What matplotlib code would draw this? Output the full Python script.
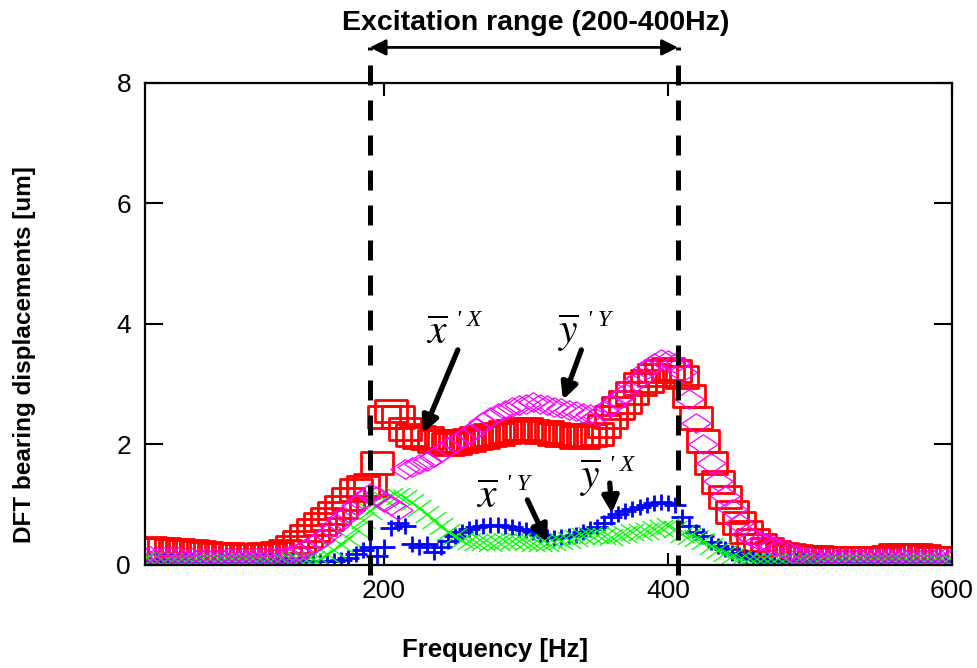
import numpy as np
import matplotlib
matplotlib.use("Agg")
import matplotlib.pyplot as plt
from matplotlib.path import Path

plt.rcParams['font.family'] = ['Liberation Sans', 'DejaVu Sans']
plt.rcParams['mathtext.fontset'] = 'stix'

# frequency grid [Hz], 5 Hz step
freq = np.arange(30, 601, 5)

# x'X  (red squares)
x_X = [0.27, 0.28, 0.27, 0.26, 0.25, 0.25, 0.24, 0.23, 0.21, 0.20,
       0.19, 0.19, 0.18, 0.17, 0.17, 0.17, 0.17, 0.18, 0.19, 0.20,
       0.24, 0.30, 0.38, 0.48, 0.58, 0.68, 0.76, 0.86, 0.96, 1.10,
       1.25, 1.30, 1.32, 1.70, 2.45, 2.55, 2.45, 2.25, 2.15, 2.12,
       2.10, 2.05, 2.05, 2.00, 2.02, 2.05, 2.08, 2.10, 2.12, 2.15,
       2.18, 2.20, 2.22, 2.25, 2.25, 2.22, 2.20, 2.20, 2.18, 2.15,
       2.15, 2.12, 2.12, 2.15, 2.18, 2.30, 2.45, 2.60, 2.70, 2.85,
       3.00, 3.05, 3.15, 3.22, 3.25, 3.22, 3.12, 2.80, 2.44, 2.05,
       1.70, 1.38, 1.13, 0.88, 0.70, 0.55, 0.42, 0.33, 0.26, 0.21,
       0.18, 0.16, 0.15, 0.14, 0.13, 0.13, 0.12, 0.12, 0.12, 0.12,
       0.12, 0.12, 0.12, 0.12, 0.12, 0.13, 0.16, 0.17, 0.17, 0.17,
       0.15, 0.12, 0.12, 0.12, 0.12]

# y'Y  (magenta diamonds)
y_Y = [0.15, 0.15, 0.14, 0.14, 0.13, 0.13, 0.12, 0.12, 0.12, 0.12,
       0.12, 0.12, 0.12, 0.12, 0.12, 0.12, 0.12, 0.12, 0.13, 0.14,
       0.15, 0.18, 0.22, 0.28, 0.35, 0.42, 0.52, 0.64, 0.76, 0.88,
       1.00, 1.10, 1.20, 1.15, 1.05, 1.00, 0.92, 1.60, 1.63, 1.67,
       1.72, 1.80, 1.88, 1.95, 2.02, 2.10, 2.18, 2.28, 2.38, 2.45,
       2.52, 2.58, 2.62, 2.66, 2.68, 2.70, 2.68, 2.65, 2.62, 2.60,
       2.58, 2.55, 2.52, 2.50, 2.48, 2.55, 2.65, 2.75, 2.85, 3.00,
       3.10, 3.25, 3.35, 3.42, 3.40, 3.35, 3.20, 2.75, 2.35, 2.00,
       1.70, 1.40, 1.15, 0.93, 0.70, 0.52, 0.45, 0.40, 0.36, 0.32,
       0.28, 0.22, 0.18, 0.15, 0.13, 0.12, 0.12, 0.12, 0.12, 0.12,
       0.12, 0.12, 0.12, 0.12, 0.12, 0.12, 0.12, 0.12, 0.12, 0.12,
       0.12, 0.12, 0.12, 0.12, 0.12]

# x'Y  (blue plus)
x_Y = [0.07, 0.07, 0.06, 0.06, 0.06, 0.06, 0.06, 0.06, 0.06, 0.06,
       0.06, 0.06, 0.06, 0.06, 0.06, 0.06, 0.06, 0.06, 0.06, 0.06,
       0.06, 0.06, 0.06, 0.06, 0.06, 0.06, 0.06, 0.06, 0.08, 0.12,
       0.18, 0.25, 0.30, 0.15, 0.30, 0.62, 0.70, 0.65, 0.35, 0.30,
       0.35, 0.22, 0.30, 0.40, 0.48, 0.55, 0.60, 0.63, 0.65, 0.66,
       0.66, 0.65, 0.63, 0.60, 0.58, 0.55, 0.50, 0.47, 0.45, 0.46,
       0.48, 0.50, 0.55, 0.60, 0.63, 0.70, 0.80, 0.85, 0.90, 0.93,
       0.97, 1.00, 1.03, 1.05, 1.03, 1.00, 0.80, 0.65, 0.55, 0.48,
       0.38, 0.32, 0.26, 0.20, 0.17, 0.13, 0.10, 0.08, 0.07, 0.06,
       0.06, 0.06, 0.06, 0.06, 0.06, 0.06, 0.06, 0.06, 0.06, 0.06,
       0.06, 0.06, 0.06, 0.06, 0.06, 0.06, 0.06, 0.06, 0.06, 0.06,
       0.06, 0.06, 0.06, 0.06, 0.06]

# y'X  (green cross)
y_X = [0.08, 0.08, 0.07, 0.07, 0.07, 0.07, 0.07, 0.07, 0.07, 0.07,
       0.07, 0.07, 0.07, 0.07, 0.07, 0.07, 0.07, 0.07, 0.07, 0.07,
       0.07, 0.08, 0.08, 0.09, 0.10, 0.12, 0.18, 0.25, 0.35, 0.45,
       0.60, 0.75, 0.90, 1.00, 1.10, 1.15, 1.15, 1.12, 1.05, 0.95,
       0.85, 0.75, 0.65, 0.55, 0.48, 0.42, 0.40, 0.38, 0.38, 0.37,
       0.38, 0.40, 0.40, 0.40, 0.38, 0.37, 0.36, 0.36, 0.38, 0.40,
       0.42, 0.45, 0.48, 0.50, 0.50, 0.48, 0.47, 0.50, 0.52, 0.55,
       0.55, 0.57, 0.60, 0.62, 0.65, 0.60, 0.52, 0.48, 0.45, 0.40,
       0.32, 0.25, 0.20, 0.15, 0.10, 0.07, 0.06, 0.06, 0.06, 0.06,
       0.06, 0.06, 0.06, 0.06, 0.06, 0.06, 0.06, 0.06, 0.06, 0.06,
       0.06, 0.06, 0.06, 0.06, 0.06, 0.06, 0.06, 0.06, 0.06, 0.06,
       0.06, 0.06, 0.06, 0.06, 0.06]

exc_lo, exc_hi = 190, 407   # dashed lines as drawn

# wide (stretched) marker shapes
M, L, C = Path.MOVETO, Path.LINETO, Path.CLOSEPOLY
rect = Path([(-1.45, -1), (1.45, -1), (1.45, 1), (-1.45, 1), (-1.45, -1)], [M, L, L, L, C])
diamond = Path([(-1.5, 0), (0, -1), (1.5, 0), (0, 1), (-1.5, 0)], [M, L, L, L, C])
plus = Path([(-1.4, 0), (1.4, 0), (0, -1), (0, 1)], [M, L, M, L])
cross = Path([(-1.4, -1), (1.4, 1), (-1.4, 1), (1.4, -1)], [M, L, M, L])

fig = plt.figure(figsize=(9.77, 6.68), dpi=100)
ax = fig.add_axes([0.1484, 0.1542, 0.826, 0.7216])

ax.plot(freq, x_X, ls='none', marker=rect, ms=23, mfc='none', mec='#ff0000', mew=2.0)
ax.plot(freq, x_Y, ls='none', marker=plus, ms=16, mfc='none', mec='#0000ff', mew=2.0)
ax.plot(freq, y_X, ls='none', marker=cross, ms=17, mfc='none', mec='#00ff00', mew=0.9)
ax.plot(freq, y_Y, ls='none', marker=diamond, ms=21, mfc='none', mec='#ff00ff', mew=0.9)

ax.set_xlim(31.7, 600)
ax.set_ylim(0, 8)
ax.set_xticks([200, 400, 600])
ax.set_yticks([0, 2, 4, 6, 8])
ax.tick_params(direction='in', top=True, right=True, labelsize=19, width=1.5, pad=10)
ax.tick_params(axis='x', length=9)
ax.tick_params(axis='y', length=13)
for s in ax.spines.values():
    s.set_linewidth(1.6)

# excitation range markers
for fx in (exc_lo, exc_hi):
    ax.plot([fx, fx], [-0.17, 8.59], color='k', lw=3.6, dashes=(4, 3), clip_on=False, zorder=5)
ax.annotate('', xy=(exc_lo, 8.59), xytext=(exc_hi, 8.59),
            arrowprops=dict(arrowstyle='<|-|>', lw=2, color='k', mutation_scale=24,
                            shrinkA=0, shrinkB=0), annotation_clip=False)
fig.text(536 / 977, 1 - 23 / 668, 'Excitation range (200-400Hz)', ha='center', va='center',
         fontsize=20.5, fontweight='bold')

# curve labels: (symbol, superscript, text pos, arrow tail, arrow head)
labels = [
    (r"$\overline{x}$", "' X", (237.3, 3.85), (252, 3.57), (227.5, 2.19)),
    (r"$\overline{y}$", "' Y", (329.6, 3.85), (339, 3.57), (326, 2.74)),
    (r"$\overline{x}$", "' Y", (272.5, 1.13), (301, 1.08), (315, 0.38)),
    (r"$\overline{y}$", "' X", (345.0, 1.45), (359, 1.36), (360.5, 0.86)),
]
for sym, sup, tpos, tail, head in labels:
    ax.text(tpos[0], tpos[1], sym, ha='center', va='center', fontsize=30, zorder=6)
    ax.annotate(sup, xy=tpos, xytext=(14, 9), textcoords='offset points',
                ha='left', va='center', fontsize=17, style='italic',
                family='Liberation Serif', zorder=6)
    ax.annotate('', xy=head, xytext=tail,
                arrowprops=dict(arrowstyle='-|>', lw=3.8, color='k', mutation_scale=24,
                                shrinkA=0, shrinkB=0), zorder=6)

fig.text(495 / 977, 1 - 650 / 668, 'Frequency [Hz]', ha='center', va='center',
         fontsize=18.5, fontweight='bold')
fig.text(25 / 977, 1 - 355 / 668, 'DFT bearing displacements [um]', ha='center', va='center',
         rotation=90, fontsize=17.5, fontweight='bold')

fig.savefig('out.png', dpi=100)
